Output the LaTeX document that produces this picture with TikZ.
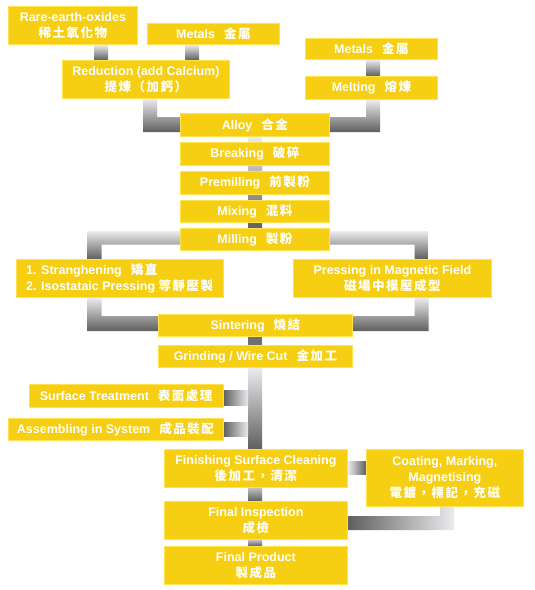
\documentclass[tikz,border=0pt]{standalone}
\usepackage{fontspec}
\setmainfont{Liberation Sans}
\newfontfamily\cjk[LetterSpace=12]{Noto Sans CJK TC}
\usetikzlibrary{backgrounds}
\definecolor{boxfill}{RGB}{246,206,18}
\definecolor{boxline}{RGB}{255,226,80}
\definecolor{cl}{RGB}{236,234,238}
\definecolor{cm}{RGB}{150,150,150}
\definecolor{cd}{RGB}{95,95,95}
\newcommand\cj[1]{{\cjk\bfseries #1}}
\newcommand\gp{\hspace{9pt}}
\begin{document}
\begin{tikzpicture}[x=1pt,y=-1pt,
  box/.style={draw=boxline, fill=boxfill, line width=0.8pt, text=white,
    font=\bfseries\fontsize{12.5}{16}\selectfont, align=center,
    inner sep=0pt, anchor=north west},
  vsh/.style={top color=cl, bottom color=cd},
  hdl/.style={left color=cd, right color=cl},
  hld/.style={left color=cl, right color=cd}]
\useasboundingbox (0,0) rectangle (535,590);

% boxes
\node[box, minimum width=129pt, minimum height=38pt] (re) at (8,6) {Rare-earth-oxides\\\cj{稀土氧化物}};
\node[box, minimum width=132pt, minimum height=21pt] (m1) at (147,23) {Metals\gp\cj{金屬}};
\node[box, minimum width=167pt, minimum height=38pt] (red) at (62,60) {Reduction (add Calcium)\\\cj{提煉（加鈣）}};
\node[box, minimum width=132pt, minimum height=21pt] (m2) at (305,38) {Metals\gp\cj{金屬}};
\node[box, minimum width=132pt, minimum height=23pt] (melt) at (305,76) {Melting\gp\cj{熔煉}};
\node[box, minimum width=149pt, minimum height=23pt] (alloy) at (180,113) {Alloy\gp\cj{合金}};
\node[box, minimum width=149pt, minimum height=22.5pt] (brk) at (180,142) {Breaking\gp\cj{破碎}};
\node[box, minimum width=149pt, minimum height=22.5pt] (pre) at (180,171) {Premilling\gp\cj{前製粉}};
\node[box, minimum width=149pt, minimum height=22pt] (mix) at (180,200) {Mixing\gp\cj{混料}};
\node[box, minimum width=149pt, minimum height=22pt] (mill) at (180,228) {Milling\gp\cj{製粉}};
\node[box, minimum width=206.5pt, minimum height=38pt, align=left] (str) at (16,259) {1. Stranghening\gp\cj{矯直}\\2. Isostataic Pressing \cj{等靜壓製}};
\node[box, minimum width=198pt, minimum height=38pt] (press) at (293,259) {Pressing in Magnetic Field\\\cj{磁場中模壓成型}};
\node[box, minimum width=194pt, minimum height=22.5pt] (sint) at (158,313.5) {Sintering\gp\cj{燒結}};
\node[box, minimum width=194pt, minimum height=22pt] (grind) at (158,345) {Grinding / Wire Cut\gp\cj{金加工}};
\node[box, minimum width=193.5pt, minimum height=23pt] (surf) at (29,384) {Surface Treatment\gp\cj{表面處理}};
\node[box, minimum width=215pt, minimum height=22.5pt] (asm) at (7.5,417.5) {Assembling in System\gp\cj{成品裝配}};
\node[box, minimum width=183pt, minimum height=38pt] (fin) at (164,449) {Finishing Surface Cleaning\\\cj{後加工，清潔}};
\node[box, minimum width=157pt, minimum height=57pt] (coat) at (366,449) {Coating, Marking,\\Magnetising\\\cj{電鍍，標記，充磁}};
\node[box, minimum width=183pt, minimum height=38pt] (insp) at (164,501) {Final Inspection\\\cj{成檢}};
\node[box, minimum width=183pt, minimum height=38pt] (prod) at (164,546) {Final Product\\\cj{製成品}};

% connectors (behind boxes)
\begin{scope}[on background layer]
\fill[white] (0,0) rectangle (535,590);
% top
\shade[vsh] (94,0 |- re.south) rectangle (108,0 |- red.north);
\shade[vsh] (185,0 |- m1.south) rectangle (199,0 |- red.north);
\shade[vsh] (366,0 |- m2.south) rectangle (380,0 |- melt.north);
\shade[vsh] (143,0 |- red.south) -- (157,0 |- red.south) -- (157,117)
  -- (alloy.west |- 0,117) -- (alloy.west |- 0,132) -- (143,132) -- cycle;
\shade[vsh] (366,0 |- melt.south) -- (380,0 |- melt.south) -- (380,132)
  -- (alloy.east |- 0,132) -- (alloy.east |- 0,117) -- (366,117) -- cycle;
% main column
\shade[vsh] (248,0 |- alloy.south) rectangle (262,0 |- mill.north);
% milling branches
\shade[vsh] (mill.west |- 0,231) -- (87,231) -- (87,0 |- str.north)
  -- (101.5,0 |- str.north) -- (101.5,244.5) -- (mill.west |- 0,244.5) -- cycle;
\shade[vsh] (mill.east |- 0,231) -- (428.6,231) -- (428.6,0 |- press.north)
  -- (414.6,0 |- press.north) -- (414.6,244.5) -- (mill.east |- 0,244.5) -- cycle;
% into sintering
\shade[vsh] (87,0 |- str.south) -- (101.5,0 |- str.south) -- (101.5,316)
  -- (sint.west |- 0,316) -- (sint.west |- 0,331) -- (87,331) -- cycle;
\shade[vsh] (428.6,0 |- press.south) -- (414.6,0 |- press.south) -- (414.6,316)
  -- (sint.east |- 0,316) -- (sint.east |- 0,331) -- (428.6,331) -- cycle;
% sintering -> grinding -> finishing
\fill[cd!90] (248,0 |- sint.south) rectangle (262,0 |- grind.north);
\shade[vsh] (248,0 |- grind.south) rectangle (262,0 |- fin.north);
% side branches
\shade[hdl] (surf.east |- 0,390) rectangle (248,405);
\shade[hdl] (asm.east |- 0,422) rectangle (248,436);
% finishing -> coating
\shade[hld] (fin.east |- 0,461) rectangle (coat.west |- 0,474);
% lower column
\shade[top color=cl!70!cd, bottom color=cd] (248,0 |- fin.south) rectangle (262,0 |- insp.north);
\shade[top color=cl!70!cd, bottom color=cd] (248,0 |- insp.south) rectangle (262,0 |- prod.north);
% coating -> inspection
\shade[hdl] (440,0 |- coat.south) -- (454,0 |- coat.south) -- (454,530)
  -- (insp.east |- 0,530) -- (insp.east |- 0,516) -- (440,516) -- cycle;
\end{scope}
\end{tikzpicture}
\end{document}
